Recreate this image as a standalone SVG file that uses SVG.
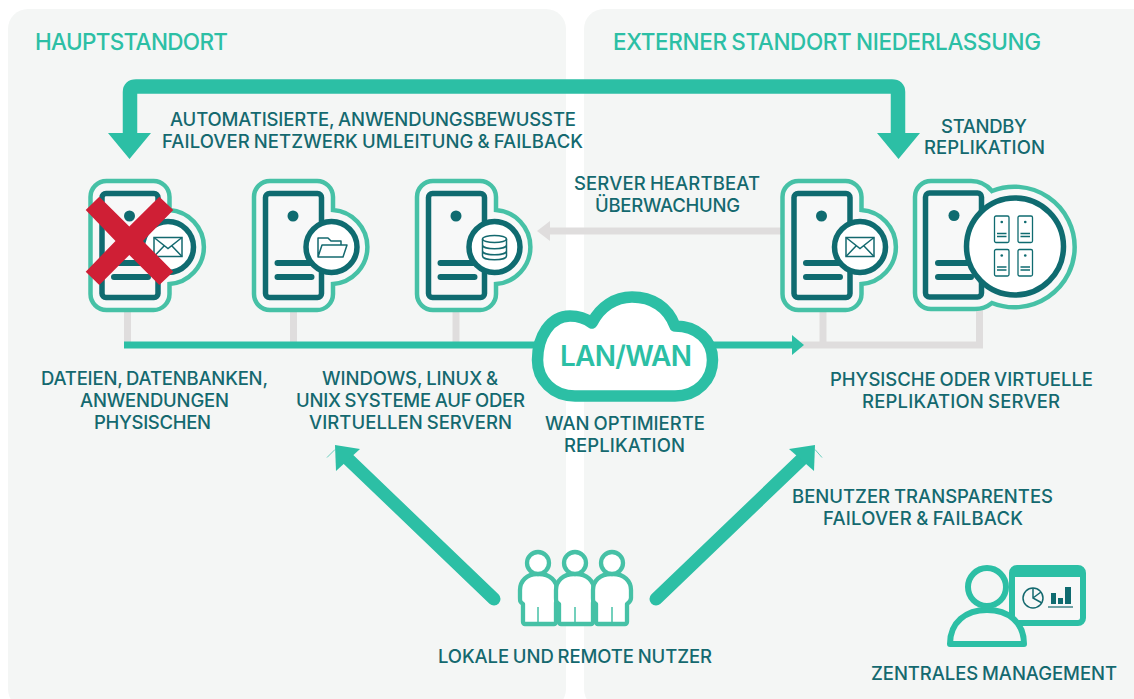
<svg xmlns="http://www.w3.org/2000/svg" width="1134" height="699" viewBox="0 0 1134 699">
<style>
text{font-family:"Inter","Liberation Sans",sans-serif}
.t{font-size:18.5px;font-weight:500;fill:#14696f;word-spacing:-1px}
.h{font-size:22.5px;font-weight:450;fill:#2cbfa5;word-spacing:-1px}
.c{text-anchor:middle}
.g{fill:none;stroke:#dfdddd;stroke-width:7}
.a{fill:none;stroke:#2cbfa5}
.i{fill:none;stroke:#14696f;stroke-width:1.5}
</style>
<defs>
<g id="srv">
<path d="M106.500 181H153A16 16 0 0 1 169.500 197V210A37.100 37.100 0 0 1 169.500 284V294A16 16 0 0 1 153 310H106.500A16 16 0 0 1 90.500 294V197A16 16 0 0 1 106.500 181Z" fill="#f7f8f8" stroke="#46c1a6" stroke-width="4.500"/>
<rect x="102" y="193.500" width="56" height="104" rx="4" fill="#f7f8f8" stroke="#0f6b70" stroke-width="5.500"/>
<circle cx="129.500" cy="216" r="5.500" fill="#0f6b70"/>
<path d="M114 263H148M114 277H148" fill="none" stroke="#0f6b70" stroke-width="6" stroke-linecap="round"/>
<circle cx="168" cy="247" r="25.500" fill="#fff" stroke="#0f6b70" stroke-width="5.500"/>
</g>
<g id="env" class="i">
<rect x="0" y="0" width="28" height="19"/>
<path d="M0 0L14 11L28 0M0 19L10.500 8M28 19L17.500 8"/>
</g>
<g id="mini">
<rect x="0" y="0" width="14.500" height="26.500" rx="1.500" fill="#fff" stroke="#0f6b70" stroke-width="1.300"/>
<circle cx="7.250" cy="6" r="1.300" fill="#0f6b70"/>
<path d="M2.500 17.500H12M2.500 20.500H12" stroke="#0f6b70" stroke-width="1.300"/>
</g>
</defs>

<g id="panels">
<rect x="8" y="9" width="558" height="700" rx="20" fill="#f4f6f5"/>
<rect x="584" y="9" width="570" height="700" rx="20" fill="#f4f6f5"/>
</g>

<g id="connectors">
<path class="g" d="M127.500 312V345M293.500 312V345M456 312V345M823 312V345M979.500 310V345H800"/>
<path class="g" d="M781 231H548"/>
<path d="M537 231L550 221V241Z" fill="#dfdddd"/>
<path class="a" stroke-width="7" d="M124 345H794"/>
<path d="M804 345L792 335V355Z" fill="#2cbfa5"/>
<path class="a" stroke-width="14.500" d="M130 135V92Q130 86.500 136 86.500H892Q898 86.500 898 92V135"/>
<path d="M108 133H151L129.500 159ZM877 133H920L898.500 159Z" fill="#2cbfa5"/>
<path class="a" stroke-width="13" stroke-linecap="round" d="M494 599L348 459"/>
<path d="M335 445L360 449L336 471Z" fill="#2cbfa5"/>
<path class="a" stroke-width=".7" d="M327 457.500L335 449.500"/>
<path class="a" stroke-width="13" stroke-linecap="round" d="M656 599L802 459"/>
<path d="M815 445L789 449L814 471Z" fill="#2cbfa5"/>
<path class="a" stroke-width=".7" d="M815 449.500L822 457.500"/>
</g>

<g id="server-mail">
<use href="#srv"/>
<use href="#env" x="154" y="237.500"/>
<polygon points="85.700,210 99.300,196.700 129.300,226.500 159.300,196.700 173.300,210 143,241 173.300,271.700 159.300,285 129.300,255 99.300,285 85.700,271.700 115.500,241" fill="#cf1f35"/>
</g>
<g id="server-files">
<use href="#srv" x="163.500"/>
<path class="i" d="M318 257V238H328L331 241H341V245M318 257L322 245H347L343 257Z" stroke-linejoin="round"/>
</g>
<g id="server-db">
<use href="#srv" x="326.500"/>
<g class="i"><ellipse cx="494.500" cy="239" rx="12" ry="3.500"/><path d="M482.500 239V256C482.500 261 506.500 261 506.500 256V239M482.500 245C482.500 250 506.500 250 506.500 245M482.500 251C482.500 256 506.500 256 506.500 251"/></g>
</g>
<g id="server-heartbeat">
<use href="#srv" x="692"/>
<use href="#env" x="846" y="237.500"/>
</g>
<g id="server-replica">
<path d="M931 181H971C980 181 987 185 992 191A60.300 60.300 0 1 1 992 303C987 307 980 309 975 309H931A16 16 0 0 1 915 293V197A16 16 0 0 1 931 181Z" fill="#f7f8f8" stroke="#46c1a6" stroke-width="4.500"/>
<rect x="925.500" y="193" width="56" height="104" rx="4" fill="#f7f8f8" stroke="#0f6b70" stroke-width="5.500"/>
<circle cx="954" cy="215.500" r="5.500" fill="#0f6b70"/>
<path d="M938 263H971M938 277H971" fill="none" stroke="#0f6b70" stroke-width="6" stroke-linecap="round"/>
<circle cx="1015" cy="246.500" r="48.500" fill="#fff" stroke="#0f6b70" stroke-width="5.500"/>
<use href="#mini" x="994.500" y="216"/>
<use href="#mini" x="1018" y="216"/>
<use href="#mini" x="994.500" y="249.500"/>
<use href="#mini" x="1018" y="249.500"/>
</g>

<g id="cloud">
<path d="M575 396H675C697 396 712.500 380 712.500 360C712.500 340 697 326 675 326C668 307 652 297 632 297C615 297 600 307 592 323C585 318 577 316 570 316C550 316 537.500 337 537.500 360C537.500 380 553 396 575 396Z" fill="#fff" stroke="#2cbfa5" stroke-width="11.500" stroke-linejoin="round"/>
<text x="626" y="366" class="c" font-size="28" font-weight="600" fill="#2cbfa5" textLength="132">LAN/WAN</text>
</g>

<g id="users">
<g fill="#fff" stroke="#46c1a6" stroke-width="4.300" stroke-linejoin="round">
<path d="M556 603V622A2 2 0 0 1 554 624H525A2 2 0 0 1 523 622V604C520 602 520 601 520 598V590C520 581 527 574 537 574H539C550 574 557 581 557 590V598Z"/>
<path d="M593 603V622A2 2 0 0 1 591 624H561A2 2 0 0 1 559 622V604C556 602 556 601 556 598V590C556 581 563 574 574 574H576C587 574 594 581 594 590V598Z"/>
<path d="M627 604V622A2 2 0 0 1 625 624H598A2 2 0 0 1 596 622V604C593 602 593 601 593 598V590C593 581 600 574 611 574H613C624 574 631 581 631 590V598C631 601 630 602 627 604Z"/>
<circle cx="538" cy="563" r="11"/><circle cx="575" cy="563" r="11"/><circle cx="612" cy="563" r="11"/>
</g>
<path d="M538 607V624M575 607V624M612 607V624" stroke="#46c1a6" stroke-width="1.500"/>
</g>

<g id="management">
<rect x="1012" y="568" width="71" height="55" rx="5" fill="#f7f8f8" stroke="#2cbfa5" stroke-width="6"/>
<rect x="1012" y="568" width="71" height="9" fill="#2cbfa5"/>
<circle cx="1033" cy="598" r="10" fill="none" stroke="#14696f" stroke-width="1.500"/>
<path d="M1033 588V598L1042 603M1033 598L1041 592" fill="none" stroke="#14696f" stroke-width="1.500"/>
<path d="M1051 593H1056V604H1051ZM1058 598H1063V604H1058ZM1065 587H1071V604H1065Z" fill="#0f6b70"/>
<path d="M1048 607H1073" stroke="#14696f" stroke-width="1.200"/>
<path d="M950 644C950 622 966 610 987 610C1008 610 1024 622 1024 644Z" fill="#f4f6f5" stroke="#2cbfa5" stroke-width="6" stroke-linejoin="round"/>
<circle cx="987" cy="587" r="19" fill="#f4f6f5" stroke="#2cbfa5" stroke-width="6"/>
</g>

<g id="labels">
<text class="h" x="35" y="50" textLength="193">HAUPTSTANDORT</text>
<text class="h" x="613" y="50" textLength="428">EXTERNER STANDORT NIEDERLASSUNG</text>
<text class="t" x="170" y="126" textLength="406">AUTOMATISIERTE, ANWENDUNGSBEWUSSTE</text>
<text class="t" x="162" y="148" textLength="421">FAILOVER NETZWERK UMLEITUNG &amp; FAILBACK</text>
<text class="t" x="941" y="133" textLength="86">STANDBY</text>
<text class="t" x="924" y="154" textLength="121">REPLIKATION</text>
<text class="t" x="574" y="190" textLength="186">SERVER HEARTBEAT</text>
<text class="t" x="595" y="212" textLength="145">ÜBERWACHUNG</text>
<text class="t" x="41" y="385" textLength="227">DATEIEN, DATENBANKEN,</text>
<text class="t" x="80" y="407" textLength="149">ANWENDUNGEN</text>
<text class="t" x="94" y="429" textLength="117">PHYSISCHEN</text>
<text class="t" x="322" y="385" textLength="176">WINDOWS, LINUX &amp;</text>
<text class="t" x="296" y="407" textLength="229">UNIX SYSTEME AUF ODER</text>
<text class="t" x="309" y="429" textLength="203">VIRTUELLEN SERVERN</text>
<text class="t" x="830" y="386" textLength="263">PHYSISCHE ODER VIRTUELLE</text>
<text class="t" x="862" y="408" textLength="198">REPLIKATION SERVER</text>
<text class="t" x="545" y="430" textLength="160">WAN OPTIMIERTE</text>
<text class="t" x="564" y="452" textLength="121">REPLIKATION</text>
<text class="t" x="792" y="503" textLength="261">BENUTZER TRANSPARENTES</text>
<text class="t" x="823" y="525" textLength="200">FAILOVER &amp; FAILBACK</text>
<text class="t" x="438" y="663" textLength="274">LOKALE UND REMOTE NUTZER</text>
<text class="t" x="871" y="680" textLength="246">ZENTRALES MANAGEMENT</text>
</g>
</svg>
